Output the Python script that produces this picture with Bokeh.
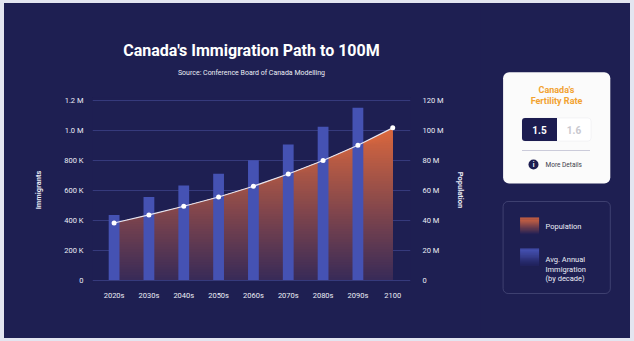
import numpy as np
from bokeh.plotting import figure
from bokeh.models import Range1d, LinearAxis, FixedTicker, Title, BoxAnnotation
from bokeh.layouts import row, column
from bokeh.core.properties import value
from bokeh.embed import file_html
from bokeh.resources import INLINE

# ---------------- data ----------------
decades = ["2020s", "2030s", "2040s", "2050s", "2060s", "2070s", "2080s", "2090s", "2100"]
immigration = [435000, 555000, 631000, 711000, 801000, 906000, 1024000, 1151000]
population = [38.1e6, 43.5e6, 49.3e6, 55.5e6, 62.7e6, 70.9e6, 79.9e6, 90.1e6, 101.7e6]
imm_ticks = [0, 200000, 400000, 600000, 800000, 1000000, 1200000]
imm_tick_labels = ["0", "200 K", "400 K", "600 K", "800 K", "1.0 M", "1.2 M"]
pop_ticks = [0, 20e6, 40e6, 60e6, 80e6, 100e6, 120e6]
pop_tick_labels = ["0", "20 M", "40 M", "60 M", "80 M", "100 M", "120 M"]

FONT = "Roboto"
BG = "#1e1f52"
TXT = "#eceef6"

xs = list(range(len(decades)))

# ---------------- main chart ----------------
p = figure(width=476, height=335, output_backend="svg", toolbar_location=None,
           title=None,
           x_range=Range1d(-0.62, 8.51), y_range=Range1d(-16700, 1220000),
           min_border_left=88, min_border_right=70, min_border_top=94, min_border_bottom=56)
p.background_fill_color = BG
p.border_fill_color = BG
p.outline_line_color = None
p.extra_y_ranges = {"pop": Range1d(-1.67e6, 122.0e6)}

# gradient area (stacked bands)
pmax = max(population)
N = 60
top_c = np.array([218, 104, 62])
bot_c = np.array([56, 42, 88])
for k in range(N, 0, -1):
    hi = pmax * k / N
    t = (k - 0.5) / N
    c = bot_c + (top_c - bot_c) * t
    col = "#%02x%02x%02x" % tuple(int(round(v)) for v in c)
    p.varea(x=xs, y1=0, y2=list(np.minimum(population, hi)), fill_color=col,
            y_range_name="pop")

p.vbar(x=xs[:len(immigration)], top=immigration, width=0.31, bottom=0,
       fill_color="#4552b3", line_color=None)

p.line(xs, population, line_color="#e4e4f0", line_width=1.2, y_range_name="pop")
p.scatter(xs, population, size=5, fill_color="white", line_color=None, y_range_name="pop")

# axes
p.xaxis.ticker = FixedTicker(ticks=xs)
p.xaxis.major_label_overrides = {i: d for i, d in enumerate(decades)}
p.yaxis.ticker = FixedTicker(ticks=imm_ticks)
p.yaxis.major_label_overrides = {t: l for t, l in zip(imm_ticks, imm_tick_labels)}
p.yaxis.axis_label = "Immigrants"

ra = LinearAxis(y_range_name="pop", ticker=FixedTicker(ticks=pop_ticks),
                major_label_overrides={t: l for t, l in zip(pop_ticks, pop_tick_labels)},
                axis_label="Population")
p.add_layout(ra, "right")

for ax in p.axis:
    ax.axis_line_color = None
    ax.major_tick_line_color = None
    ax.minor_tick_line_color = None
    ax.major_tick_in = 0
    ax.major_tick_out = 0
    ax.major_label_text_color = TXT
    ax.major_label_text_font = FONT
    ax.major_label_text_font_size = "7.5px"
    ax.axis_label_text_color = TXT
    ax.axis_label_text_font = FONT
    ax.axis_label_text_font_size = "7.5px"
    ax.axis_label_text_font_style = "bold"

p.xaxis.major_label_standoff = 8
p.yaxis.major_label_standoff = 9
p.yaxis.axis_label_standoff = 18
ra.major_label_standoff = 12
ra.axis_label_standoff = 9

p.xgrid.visible = False
p.ygrid.ticker = FixedTicker(ticks=imm_ticks)
p.ygrid.grid_line_color = "#363a7c"
p.ygrid.grid_line_width = 1

p.add_layout(Title(text="Source: Conference Board of Canada Modelling", align="center",
                   text_font=FONT, text_font_size="7px", text_font_style="normal",
                   text_color=TXT, standoff=42), "above")
p.add_layout(Title(text="Canada's Immigration Path to 100M", align="center",
                   text_font=FONT, text_font_size="16px", text_font_style="bold",
                   text_color="white", standoff=-28), "above")

# ---------------- right panel ----------------
q = figure(width=150, height=335, output_backend="svg", toolbar_location=None,
           title=None, x_axis_type=None, y_axis_type=None,
           x_range=Range1d(480, 630), y_range=Range1d(338, 3),
           min_border=0, min_border_top=0, min_border_bottom=0,
           min_border_left=0, min_border_right=0)
q.background_fill_color = BG
q.border_fill_color = BG
q.outline_line_color = None

# card
q.add_layout(BoxAnnotation(left=502.6, right=609.8, top=71.7, bottom=183,
                           fill_color="#fbfbfb", fill_alpha=1, line_color=None,
                           border_radius=6, level="underlay"))
# toggle
q.add_layout(BoxAnnotation(left=521.5, right=590.5, top=117.5, bottom=140.5,
                           fill_color="white", fill_alpha=1, line_color="#dedee6",
                           line_width=1, border_radius=3, level="underlay"))
q.add_layout(BoxAnnotation(left=521.5, right=556.5, top=117.5, bottom=140.5,
                           fill_color="#1c1c50", fill_alpha=1, line_color=None,
                           border_radius=(3, 0, 0, 3), level="underlay"))
# legend frame
q.add_layout(BoxAnnotation(left=502.6, right=609.8, top=201, bottom=293,
                           fill_color=None, line_color="#8c8eb6", line_width=1,
                           border_radius=5, level="underlay"))

q.text(x=[556, 556], y=[89, 100.5], text=["Canada's", "Fertility Rate"],
       text_font=value(FONT), text_font_size="9px", text_font_style="bold",
       text_color="#f2a230", text_align="center", text_baseline="middle")
q.text(x=[539], y=[129], text=["1.5"], text_font=value(FONT), text_font_size="10px",
       text_font_style="bold", text_color="white", text_align="center", text_baseline="middle")
q.text(x=[573.5], y=[129], text=["1.6"], text_font=value(FONT), text_font_size="10px",
       text_font_style="bold", text_color="#c9c9cf", text_align="center", text_baseline="middle")
q.line([522, 590], [150, 150], line_color="#9a9ab8", line_width=1, line_dash="1 1")
q.scatter([533], [164], size=10, fill_color="#1c1c50", line_color=None)
q.text(x=[533], y=[164], text=["i"], text_font=value(FONT), text_font_size="6.5px",
       text_font_style="bold", text_color="white", text_align="center", text_baseline="middle")
q.text(x=[545], y=[164.5], text=["More Details"], text_font=value(FONT), text_font_size="6.5px",
       text_color="#3c3c4c", text_align="left", text_baseline="middle")

# legend swatches (vertical gradients)
def swatch(x0, x1, y0, y1, c_top, c_bot, n=16):
    c_top = np.array(c_top); c_bot = np.array(c_bot)
    edges = np.linspace(y0, y1, n + 1)
    cols = []
    for i in range(n):
        t = i / (n - 1)
        c = c_top + (c_bot - c_top) * t
        cols.append("#%02x%02x%02x" % tuple(int(round(v)) for v in c))
    q.quad(left=[x0] * n, right=[x1] * n, top=list(edges[:-1]), bottom=list(edges[1:] + 0.3),
           fill_color=cols, line_color=None)

swatch(519.6, 538.6, 217, 233.5, [214, 102, 64], [40, 34, 84])
swatch(519.6, 538.6, 248, 265, [70, 82, 180], [34, 36, 96])

q.text(x=[545], y=[226], text=["Population"], text_font=value(FONT), text_font_size="7.5px",
       text_color=TXT, text_align="left", text_baseline="middle")
q.text(x=[545, 545, 545], y=[259, 268.5, 278], text=["Avg. Annual", "Immigration", "(by decade)"],
       text_font=value(FONT), text_font_size="7.5px",
       text_color=TXT, text_align="left", text_baseline="middle")

inner = row(p, column(q), margin=(3, 4, 3, 4), styles={"background-color": BG})
layout = column(inner, styles={"background-color": "#e3e5f0"})

open("out.html", "w").write(file_html(layout, INLINE))
